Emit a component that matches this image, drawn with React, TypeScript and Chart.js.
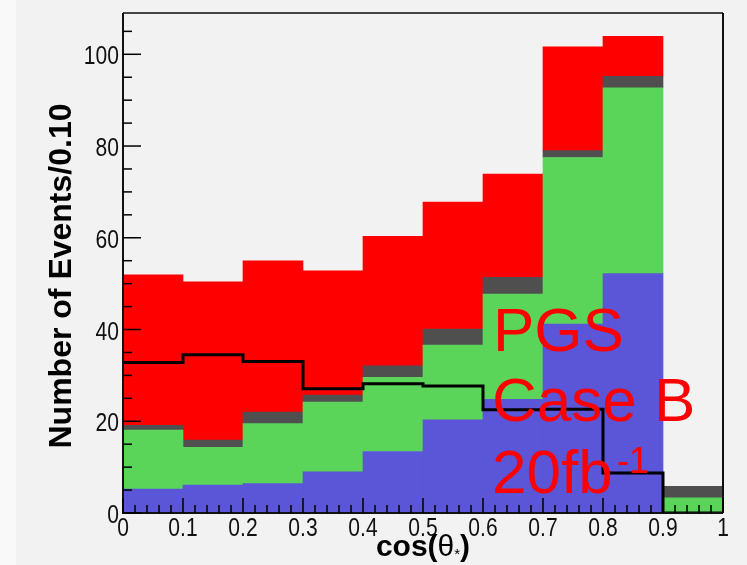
import React, { useEffect, useRef } from 'react';
import { Chart, registerables } from 'chart.js';

Chart.register(...registerables);

// ---- data ----
const binCenters = [0.05, 0.15, 0.25, 0.35, 0.45, 0.55, 0.65, 0.75, 0.85, 0.95];
const binEdges = [0, 0.1, 0.2, 0.3, 0.4, 0.5, 0.6, 0.7, 0.8, 0.9, 1.0];
const bkgBlue = [5.2, 6.1, 6.4, 9.0, 13.4, 20.3, 24.8, 41.2, 52.2, 0];
const bkgGreen = [12.9, 8.2, 13.1, 15.2, 16.2, 16.3, 22.9, 36.3, 40.5, 3.3];
const bkgGray = [1.0, 1.6, 2.5, 1.5, 2.5, 3.5, 3.7, 1.5, 2.5, 2.5];
const signal = [32.8, 34.5, 33.0, 27.1, 28.2, 27.7, 22.5, 22.6, 8.7, 0];
const yTickValues = [0, 20, 40, 60, 80, 100];
const xTickValues = [0, 0.1, 0.2, 0.3, 0.4, 0.5, 0.6, 0.7, 0.8, 0.9, 1];
const xTickLabels = ['0', '0.1', '0.2', '0.3', '0.4', '0.5', '0.6', '0.7', '0.8', '0.9', '1'];
const yMax = 109;

const FONT = '"Liberation Sans", Arial, Helvetica, sans-serif';

function narrowText(ctx: any, text: string, x: number, y: number, align: string) {
  const sx = 0.81;
  ctx.save();
  ctx.translate(x, y);
  ctx.scale(sx, 1);
  ctx.textAlign = align;
  ctx.fillText(text, 0, 0);
  ctx.restore();
}

const rootStyle = {
  id: 'rootStyle',
  beforeDraw(chart: any) {
    const ctx = chart.ctx;
    ctx.save();
    ctx.fillStyle = '#f2f2f2';
    ctx.fillRect(0, 0, chart.width, chart.height);
    ctx.fillStyle = '#f9f9f9';
    ctx.fillRect(0, 0, 16, chart.height);
    ctx.restore();
  },
  afterDatasetsDraw(chart: any) {
    const ctx = chart.ctx;
    const a = chart.chartArea;
    const xs = chart.scales.x;
    const ys = chart.scales.y;
    ctx.save();

    // frame
    ctx.strokeStyle = '#444';
    ctx.lineWidth = 2;
    ctx.beginPath();
    ctx.moveTo(a.left, a.top);
    ctx.lineTo(a.right, a.top);
    ctx.stroke();
    ctx.strokeStyle = '#111';
    ctx.beginPath();
    ctx.moveTo(a.right, a.top);
    ctx.lineTo(a.right, a.bottom);
    ctx.stroke();
    ctx.beginPath();
    ctx.moveTo(a.left, a.top);
    ctx.lineTo(a.left, a.bottom);
    ctx.lineTo(a.right, a.bottom);
    ctx.stroke();

    // x ticks
    ctx.lineWidth = 1.5;
    ctx.strokeStyle = '#000';
    for (let i = 0; i <= 50; i++) {
      const v = i / 50;
      const px = xs.getPixelForValue(v);
      const len = i % 5 === 0 ? 15 : 8;
      ctx.beginPath();
      ctx.moveTo(px, a.bottom);
      ctx.lineTo(px, a.bottom - len);
      ctx.stroke();
    }
    // y ticks
    for (let v = 0; v <= 105; v += 5) {
      const py = ys.getPixelForValue(v);
      const len = v % 20 === 0 ? 18 : 9;
      ctx.beginPath();
      ctx.moveTo(a.left, py);
      ctx.lineTo(a.left + len, py);
      ctx.stroke();
    }

    // tick labels
    ctx.fillStyle = '#111';
    ctx.font = `26px ${FONT}`;
    ctx.textBaseline = 'middle';
    xTickValues.forEach((v, i) => {
      narrowText(ctx, xTickLabels[i], xs.getPixelForValue(v), a.bottom + 16, 'center');
    });
    yTickValues.forEach((v) => {
      narrowText(ctx, String(v), a.left - 4, ys.getPixelForValue(v) + 3, 'right');
    });

    // y title
    ctx.save();
    ctx.translate(62, 276);
    ctx.rotate(-Math.PI / 2);
    ctx.font = `bold 32px ${FONT}`;
    ctx.textAlign = 'center';
    ctx.textBaseline = 'middle';
    ctx.fillStyle = '#000';
    ctx.fillText('Number of Events/0.10', 0, 0);
    ctx.restore();

    // x title: cos(θ*)
    ctx.fillStyle = '#000';
    ctx.textBaseline = 'alphabetic';
    ctx.textAlign = 'left';
    const base = 556;
    const partA = 'cos(';
    const partB = 'θ';
    const partC = '*';
    const partD = ')';
    ctx.font = `bold 30px ${FONT}`;
    const wA = ctx.measureText(partA).width;
    const wD = ctx.measureText(partD).width;
    ctx.font = `30px ${FONT}`;
    const wB = ctx.measureText(partB).width;
    ctx.font = `15px ${FONT}`;
    const wC = ctx.measureText(partC).width;
    let x0 = (a.left + a.right) / 2 - (wA + wB + wC + wD) / 2;
    ctx.font = `bold 30px ${FONT}`;
    ctx.fillText(partA, x0, base);
    x0 += wA;
    ctx.font = `30px ${FONT}`;
    ctx.fillText(partB, x0, base);
    x0 += wB;
    ctx.font = `15px ${FONT}`;
    ctx.fillText(partC, x0, base + 3);
    x0 += wC;
    ctx.font = `bold 30px ${FONT}`;
    ctx.fillText(partD, x0, base);

    // annotation
    ctx.fillStyle = '#ff0000';
    ctx.font = `62px ${FONT}`;
    ctx.textAlign = 'left';
    ctx.fillText('PGS', 493, 351);
    ctx.fillText('Case B', 492, 421);
    ctx.fillText('20fb', 492, 493);
    ctx.font = `36px ${FONT}`;
    ctx.fillText('-1', 617, 473);

    ctx.restore();
  },
};

export default function App() {
  const ref = useRef<HTMLCanvasElement | null>(null);

  useEffect(() => {
    if (!ref.current) return;
    const barCommon = {
      type: 'bar' as const,
      xAxisID: 'x',
      yAxisID: 'y',
      barPercentage: 1,
      categoryPercentage: 1,
      grouped: false,
      borderWidth: 0,
      stack: 'bkg',
      order: 2,
    };
    const pts = (vals: number[]) => binCenters.map((c, i) => ({ x: c, y: vals[i] }));
    const stepPoints = binEdges.slice(0, 10).map((e, i) => ({ x: e, y: signal[i] }));
    stepPoints.push({ x: 1.0, y: 0 });

    const chart = new Chart(ref.current, {
      type: 'bar',
      data: {
        datasets: [
          { ...barCommon, label: 'blue', data: pts(bkgBlue), backgroundColor: '#5b55d8' },
          { ...barCommon, label: 'green', data: pts(bkgGreen), backgroundColor: '#5ad55a' },
          { ...barCommon, label: 'gray', data: pts(bkgGray), backgroundColor: '#4f4f4f' },
          { ...barCommon, label: 'red', data: pts(signal), backgroundColor: '#ff0000' },
          {
            type: 'line',
            label: 'signal',
            data: stepPoints,
            xAxisID: 'x',
            yAxisID: 'y',
            stack: 'sig',
            stepped: 'before',
            borderColor: '#000',
            borderWidth: 3,
            pointRadius: 0,
            fill: false,
            order: 0,
          } as any,
        ] as any,
      },
      options: {
        animation: false,
        responsive: false,
        devicePixelRatio: 1,
        layout: { padding: { left: 123, right: 24, top: 13, bottom: 52 } },
        plugins: { legend: { display: false }, tooltip: { enabled: false } },
        scales: {
          x: { type: 'linear', min: 0, max: 1, offset: false, display: false, grid: { offset: false } },
          y: { type: 'linear', stacked: true, min: 0, max: yMax, display: false },
        },
      } as any,
      plugins: [rootStyle],
    });
    return () => chart.destroy();
  }, []);

  return (
    <canvas
      ref={ref}
      width={747}
      height={565}
      style={{ position: 'fixed', left: 0, top: 0, width: 747, height: 565 }}
    />
  );
}
